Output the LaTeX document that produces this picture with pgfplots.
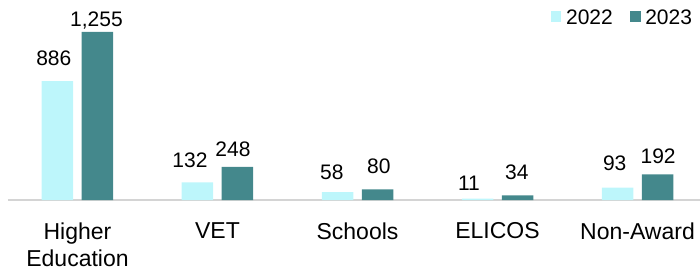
\documentclass[border=0pt]{standalone}
\usepackage{pgfplots}
\pgfplotsset{compat=1.18}
\usepackage{pgfplotstable}
\usepackage{fontspec}
\setmainfont{Liberation Sans}
\definecolor{cA}{HTML}{BDF6FB}
\definecolor{cB}{HTML}{44888C}
\definecolor{axgray}{HTML}{D4D4D4}
\pgfplotstableread{
x y yoff xoff
0 886 16 -3.7
1 132 15 -7.5
2 58 12.4 -5.6
3 11 8.3 -8.6
4 93 16.7 -2.8
}\tA
\pgfplotstableread{
x y yoff xoff
0 1255 5.7 -1
1 248 10 -4.5
2 80 16 1.4
3 34 16.4 -0.6
4 192 10.3 0.6
}\tB
\begin{document}
\begin{tikzpicture}
\begin{axis}[
  at={(0pt,0pt)}, anchor=south west,
  scale only axis, width=692pt, height=200pt,
  xmin=-0.4964, xmax=4.4465, ymin=0, ymax=1492,
  clip=false,
  ybar=8.5pt, bar width=31.5pt,
  axis x line=bottom, axis y line=none,
  axis line style={-, draw=axgray, line width=1.6pt},
  xtick={0,1,2,3,4},
  xticklabels={{Higher\\Education},VET,Schools,ELICOS,Non-Award},
  xtick style={draw=none},
  xticklabel style={font=\fontsize{23}{27}\selectfont, align=center, anchor=north, inner sep=0pt, yshift=-20.5pt},
  /pgf/number format/assume math mode=true,
  legend columns=2,
  legend style={draw=none, fill=none, inner sep=0pt, outer sep=0pt,
    font=\fontsize{21}{25}\selectfont,
    at={(rel axis cs:1,1)}, anchor=north east, xshift=-8pt, yshift=-10pt,
    nodes={inner sep=0pt},
    /tikz/every odd column/.append style={column sep=4.6pt},
    /tikz/every even column/.append style={column sep=17.4pt}},
  nodes near coords={\pgfmathprintnumber[1000 sep={,}]{\pgfplotspointmeta}},
  visualization depends on={\thisrow{yoff}\as\myyoff},
  visualization depends on={\thisrow{xoff}\as\myxoff},
  every node near coord/.append style={font=\fontsize{21}{25}\selectfont, text=black, anchor=base, inner sep=0pt, yshift=\myyoff pt, xshift=\myxoff pt},
]
\addplot[fill=cA, draw=none, legend image code/.code={\fill[cA] (0pt,-3.5pt) rectangle (10.5pt,7pt);}] table[x=x,y=y]{\tA};
\addlegendentry{2022}
\addplot[fill=cB, draw=none, legend image code/.code={\fill[cB] (0pt,-3.5pt) rectangle (10.5pt,7pt);}] table[x=x,y=y]{\tB};
\addlegendentry{2023}
\end{axis}
\pgfresetboundingbox
\path[use as bounding box] (-8pt,-68pt) rectangle (692pt,200pt);
\end{tikzpicture}
\end{document}
